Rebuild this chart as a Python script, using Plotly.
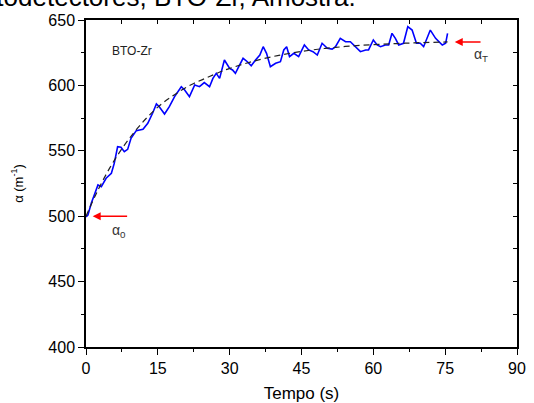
import plotly.graph_objects as go

tempo = [0.0, 0.4, 1.1, 2.5, 3.2, 4.2, 5.3, 5.9, 6.6, 7.3, 8.0, 8.7, 9.4, 10.5, 11.9, 12.9,
         13.9, 14.7, 15.3, 16.4, 17.4, 18.5, 19.9, 20.6, 21.6, 22.7, 23.7, 24.7, 25.8, 26.5,
         27.2, 27.9, 28.9, 30.0, 30.6, 31.2, 31.9, 32.8, 33.7, 34.5, 35.4, 36.3, 37.0, 37.7,
         38.5, 39.6, 40.6, 41.3, 41.9, 42.5, 43.4, 44.4, 45.6, 46.5, 47.4, 48.3, 49.3, 50.4,
         51.4, 52.1, 53.1, 54.2, 55.2, 56.3, 57.3, 58.4, 59.0, 60.0, 60.8, 61.5, 62.5, 63.2,
         63.9, 64.6, 65.3, 66.3, 67.2, 68.1, 69.0, 69.8, 70.5, 71.9, 73.0, 74.4, 75.1, 75.5]
alpha = [499.5, 500.9, 509.9, 523.9, 522.6, 529.0, 532.8, 540.4, 553.1, 552.7, 549.3, 551.1,
         559.6, 565.4, 566.4, 571.0, 578.7, 585.8, 583.7, 578.1, 583.7, 591.4, 599.0, 596.5,
         591.4, 600.3, 599.0, 602.1, 599.0, 605.4, 609.2, 605.4, 619.4, 613.0, 611.8, 609.2,
         614.3, 620.7, 618.1, 615.0, 619.4, 623.2, 629.6, 624.5, 614.3, 616.9, 618.1, 627.1,
         629.6, 622.0, 624.5, 622.0, 630.9, 627.1, 625.8, 623.2, 632.2, 628.4, 627.8, 629.6,
         636.0, 633.4, 633.4, 629.6, 625.8, 627.1, 627.1, 634.7, 630.9, 629.6, 630.9, 630.9,
         639.8, 636.0, 630.9, 632.2, 644.9, 642.3, 632.2, 632.2, 629.6, 642.3, 636.0, 630.9,
         632.2, 639.8]

# Fitted curve (dashed)
fit_t = [0, 2.5, 5, 7.5, 10, 12.5, 15, 17.5, 20, 22.5, 25, 27.5, 30, 35, 40, 45, 50, 55,
         60, 65, 70, 75.5]
fit_a = [500.0, 520.0, 537.1, 551.6, 563.9, 574.5, 583.4, 590.5, 596.5, 601.5, 605.5, 609.5,
         613.0, 618.5, 622.8, 626.0, 628.3, 630.0, 631.2, 632.0, 632.7, 633.2]

x_ticks = [0, 15, 30, 45, 60, 75, 90]
y_ticks = [400, 450, 500, 550, 600, 650]

FONT = "Liberation Sans, Arial, sans-serif"

fig = go.Figure()
fig.add_trace(go.Scatter(x=tempo, y=alpha, mode="lines",
                         line=dict(color="#0000ff", width=1.6), showlegend=False))
fig.add_trace(go.Scatter(x=fit_t, y=fit_a, mode="lines",
                         line=dict(color="#222222", width=1.2, dash="6px,4px", shape="spline"),
                         showlegend=False))
# invisible trace for mirrored axes
fig.add_trace(go.Scatter(x=[0], y=[400], xaxis="x2", yaxis="y2", mode="markers",
                         marker=dict(opacity=0), showlegend=False, hoverinfo="skip"))

axis_common = dict(showgrid=False, zeroline=False, showline=True, linecolor="black",
                   linewidth=1.5, tickcolor="black", automargin=False,
                   tickfont=dict(family=FONT, size=16, color="black"))

fig.update_layout(
    width=534, height=403,
    margin=dict(l=86, r=17, t=20, b=56),
    paper_bgcolor="white", plot_bgcolor="white",
    font=dict(family=FONT, color="black"),
    xaxis=dict(range=[0, 90], tickvals=x_ticks, ticks="outside", ticklen=6, tickwidth=1.2,
               minor=dict(dtick=7.5, ticks="outside", ticklen=3, tickcolor="black", tickwidth=1.2),
               title=dict(text="Tempo (s)", font=dict(family=FONT, size=17), standoff=20),
               **axis_common),
    yaxis=dict(range=[400, 650], tickvals=y_ticks, ticks="outside", ticklen=6, tickwidth=1.2,
               minor=dict(dtick=25, ticks="outside", ticklen=3, tickcolor="black", tickwidth=1.2),
               title=dict(text="α (m<sup>-1</sup>)", font=dict(family=FONT, size=13), standoff=22),
               **axis_common),
    xaxis2=dict(overlaying="x", side="top", range=[0, 90], dtick=7.5, tick0=0, ticks="inside",
                ticklen=4, tickwidth=1.2, showticklabels=False, showgrid=False, zeroline=False,
                showline=True, linecolor="black", linewidth=1.5, tickcolor="black",
                automargin=False),
    yaxis2=dict(overlaying="y", side="right", range=[400, 650], dtick=25, tick0=400,
                ticks="inside", ticklen=4, tickwidth=1.2, showticklabels=False, showgrid=False,
                zeroline=False, showline=True, linecolor="black", linewidth=1.5,
                tickcolor="black", automargin=False),
)

annotations = [
    dict(x=1.4, y=500, ax=8.9, ay=500, xref="x", yref="y", axref="x", ayref="y",
         text="", showarrow=True, arrowhead=2, arrowsize=1, arrowwidth=1.6, arrowcolor="#ff0000"),
    dict(x=77.0, y=633.2, ax=82.7, ay=633.2, xref="x", yref="y", axref="x", ayref="y",
         text="", showarrow=True, arrowhead=2, arrowsize=1, arrowwidth=1.6, arrowcolor="#ff0000"),
    dict(x=6.8, y=489, xref="x", yref="y", text="α<sub>0</sub>", showarrow=False,
         font=dict(family=FONT, size=14, color="#333333")),
    dict(x=82.4, y=623.5, xref="x", yref="y", text="α<sub>T</sub>", showarrow=False,
         font=dict(family=FONT, size=14, color="#333333")),
    dict(x=5.0, y=626, xref="x", yref="y", text="BTO-Zr", showarrow=False, xanchor="left",
         font=dict(family=FONT, size=12, color="#222222")),
    dict(x=0.63, y=1.07, xref="paper", yref="paper", xanchor="right", yanchor="middle",
         text="Fotodetectores, BTO-Zr, Amostra.", showarrow=False,
         font=dict(family=FONT, size=26, color="black")),
]
fig.update_layout(annotations=annotations)

fig.write_html("out.html", config={"displayModeBar": False},
               post_script="document.body.style.margin='0px';")
